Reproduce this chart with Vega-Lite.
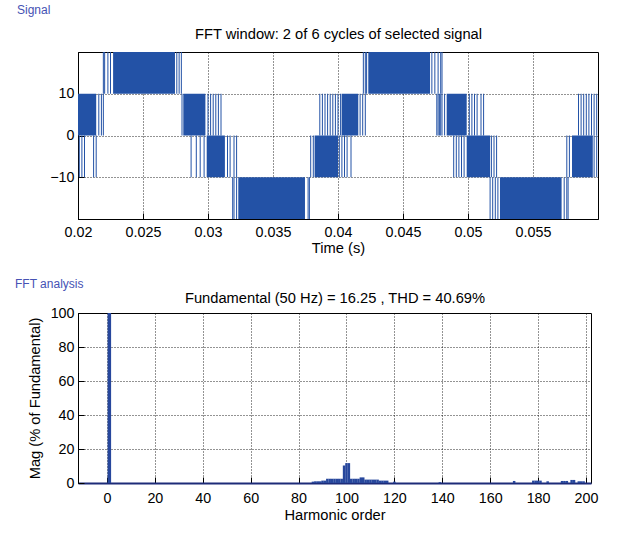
{
  "$schema": "https://vega.github.io/schema/vega-lite/v6.json",
  "background": "white",
  "padding": {"left": 14, "top": 3, "right": 5, "bottom": 5},
  "spacing": 21,
  "config": {
    "font": "Liberation Sans",
    "view": {"stroke": "#000", "strokeWidth": 1},
    "axis": {
      "labelFont": "Liberation Sans", "labelFontSize": 14.3, "labelColor": "#000",
      "titleFont": "Liberation Sans", "titleFontSize": 14.7, "titleFontWeight": "normal", "titleColor": "#000",
      "domainColor": "#000", "tickColor": "#000", "tickSize": -6, "tickWidth": 1,
      "grid": true, "gridColor": "#000", "gridDash": [1, 2], "gridOpacity": 0.85, "gridWidth": 1,
      "minExtent": 0, "labelFlush": false, "labelOverlap": false
    },
    "axisX": {"labelPadding": 12, "titlePadding": 1},
    "axisY": {"labelPadding": 10, "titlePadding": 8},
    "title": {"anchor": "start", "frame": "group", "font": "Liberation Sans", "fontSize": 12, "fontWeight": "normal", "color": "#4652b4"}
  },
  "datasets": {
    "blocks": [
      {"start": 0.0227, "end": 0.02746, "low": 10, "high": 20},
      {"start": 0.04233, "end": 0.04708, "low": 10, "high": 20},
      {"start": 0.0200, "end": 0.0214, "low": 0, "high": 10},
      {"start": 0.0281, "end": 0.0298, "low": 0, "high": 10},
      {"start": 0.04028, "end": 0.04156, "low": 0, "high": 10},
      {"start": 0.04836, "end": 0.0499, "low": 0, "high": 10},
      {"start": 0.0299, "end": 0.0313, "low": -10, "high": 0},
      {"start": 0.0382, "end": 0.0400, "low": -10, "high": 0},
      {"start": 0.0499, "end": 0.0517, "low": -10, "high": 0},
      {"start": 0.0580, "end": 0.0596, "low": -10, "high": 0},
      {"start": 0.03233, "end": 0.03746, "low": -20, "high": -10},
      {"start": 0.05246, "end": 0.0572, "low": -20, "high": -10}
    ],
    "pulses": [
      {"time": 0.02195, "low": 10, "high": 20}, {"time": 0.02205, "low": 10, "high": 20}, {"time": 0.0223, "low": 10, "high": 20}, {"time": 0.0225, "low": 10, "high": 20},
      {"time": 0.0276, "low": 10, "high": 20}, {"time": 0.02778, "low": 10, "high": 20}, {"time": 0.02795, "low": 10, "high": 20},
      {"time": 0.04195, "low": 10, "high": 20}, {"time": 0.0421, "low": 10, "high": 20}, {"time": 0.0422, "low": 10, "high": 20},
      {"time": 0.04722, "low": 10, "high": 20}, {"time": 0.04745, "low": 10, "high": 20}, {"time": 0.0477, "low": 10, "high": 20}, {"time": 0.0479, "low": 10, "high": 20}, {"time": 0.048, "low": 10, "high": 20},
      {"time": 0.0216, "low": 0, "high": 10}, {"time": 0.0218, "low": 0, "high": 10}, {"time": 0.02195, "low": 0, "high": 10},
      {"time": 0.028, "low": 0, "high": 10}, {"time": 0.03, "low": 0, "high": 10}, {"time": 0.0302, "low": 0, "high": 10}, {"time": 0.0304, "low": 0, "high": 10}, {"time": 0.0306, "low": 0, "high": 10}, {"time": 0.0308, "low": 0, "high": 10}, {"time": 0.031, "low": 0, "high": 10},
      {"time": 0.0386, "low": 0, "high": 10}, {"time": 0.0388, "low": 0, "high": 10}, {"time": 0.039, "low": 0, "high": 10}, {"time": 0.0392, "low": 0, "high": 10}, {"time": 0.0394, "low": 0, "high": 10}, {"time": 0.0396, "low": 0, "high": 10}, {"time": 0.0398, "low": 0, "high": 10}, {"time": 0.04, "low": 0, "high": 10}, {"time": 0.0402, "low": 0, "high": 10},
      {"time": 0.0417, "low": 0, "high": 10}, {"time": 0.0419, "low": 0, "high": 10}, {"time": 0.0421, "low": 0, "high": 10},
      {"time": 0.0476, "low": 0, "high": 10}, {"time": 0.0477, "low": 0, "high": 10}, {"time": 0.0478, "low": 0, "high": 10}, {"time": 0.0479, "low": 0, "high": 10}, {"time": 0.048, "low": 0, "high": 10}, {"time": 0.0482, "low": 0, "high": 10},
      {"time": 0.0501, "low": 0, "high": 10}, {"time": 0.0503, "low": 0, "high": 10}, {"time": 0.0505, "low": 0, "high": 10}, {"time": 0.0507, "low": 0, "high": 10}, {"time": 0.051, "low": 0, "high": 10}, {"time": 0.0512, "low": 0, "high": 10},
      {"time": 0.0585, "low": 0, "high": 10}, {"time": 0.0587, "low": 0, "high": 10}, {"time": 0.0589, "low": 0, "high": 10}, {"time": 0.0591, "low": 0, "high": 10}, {"time": 0.0593, "low": 0, "high": 10}, {"time": 0.0595, "low": 0, "high": 10}, {"time": 0.0597, "low": 0, "high": 10}, {"time": 0.0599, "low": 0, "high": 10},
      {"time": 0.0201, "low": -10, "high": 0}, {"time": 0.0203, "low": -10, "high": 0}, {"time": 0.0205, "low": -10, "high": 0}, {"time": 0.0212, "low": -10, "high": 0}, {"time": 0.0214, "low": -10, "high": 0},
      {"time": 0.0287, "low": -10, "high": 0}, {"time": 0.0291, "low": -10, "high": 0}, {"time": 0.0294, "low": -10, "high": 0}, {"time": 0.0297, "low": -10, "high": 0},
      {"time": 0.0315, "low": -10, "high": 0}, {"time": 0.0317, "low": -10, "high": 0}, {"time": 0.032, "low": -10, "high": 0}, {"time": 0.0322, "low": -10, "high": 0},
      {"time": 0.0379, "low": -10, "high": 0}, {"time": 0.0381, "low": -10, "high": 0},
      {"time": 0.0401, "low": -10, "high": 0}, {"time": 0.0403, "low": -10, "high": 0}, {"time": 0.0405, "low": -10, "high": 0}, {"time": 0.0407, "low": -10, "high": 0}, {"time": 0.041, "low": -10, "high": 0},
      {"time": 0.0489, "low": -10, "high": 0}, {"time": 0.0491, "low": -10, "high": 0}, {"time": 0.0493, "low": -10, "high": 0}, {"time": 0.0495, "low": -10, "high": 0}, {"time": 0.0497, "low": -10, "high": 0},
      {"time": 0.0518, "low": -10, "high": 0}, {"time": 0.052, "low": -10, "high": 0}, {"time": 0.0522, "low": -10, "high": 0},
      {"time": 0.0576, "low": -10, "high": 0}, {"time": 0.0578, "low": -10, "high": 0}, {"time": 0.0597, "low": -10, "high": 0}, {"time": 0.0599, "low": -10, "high": 0},
      {"time": 0.0319, "low": -20, "high": -10}, {"time": 0.032, "low": -20, "high": -10}, {"time": 0.0322, "low": -20, "high": -10},
      {"time": 0.0377, "low": -20, "high": -10}, {"time": 0.0378, "low": -20, "high": -10},
      {"time": 0.0517, "low": -20, "high": -10}, {"time": 0.0519, "low": -20, "high": -10}, {"time": 0.0521, "low": -20, "high": -10}, {"time": 0.0523, "low": -20, "high": -10},
      {"time": 0.0574, "low": -20, "high": -10}, {"time": 0.0576, "low": -20, "high": -10}, {"time": 0.0577, "low": -20, "high": -10}
    ],
    "spectrum": [
      {"harmonic": 1, "mag": 100},
      {"harmonic": 86, "mag": 0.8}, {"harmonic": 87, "mag": 1.0}, {"harmonic": 88, "mag": 1.0}, {"harmonic": 89, "mag": 1.0},
      {"harmonic": 90, "mag": 1.4}, {"harmonic": 91, "mag": 1.4}, {"harmonic": 92, "mag": 2.5}, {"harmonic": 93, "mag": 2.5},
      {"harmonic": 94, "mag": 2.5}, {"harmonic": 95, "mag": 2.5}, {"harmonic": 96, "mag": 2.5}, {"harmonic": 97, "mag": 2.5},
      {"harmonic": 98, "mag": 2.5}, {"harmonic": 99, "mag": 10.3}, {"harmonic": 100, "mag": 11.7}, {"harmonic": 101, "mag": 11.7},
      {"harmonic": 102, "mag": 2.5}, {"harmonic": 103, "mag": 2.5}, {"harmonic": 104, "mag": 2.5}, {"harmonic": 105, "mag": 2.5},
      {"harmonic": 106, "mag": 3.3}, {"harmonic": 107, "mag": 3.3}, {"harmonic": 108, "mag": 2.0}, {"harmonic": 109, "mag": 2.0},
      {"harmonic": 110, "mag": 2.0}, {"harmonic": 111, "mag": 2.0}, {"harmonic": 112, "mag": 2.0}, {"harmonic": 113, "mag": 2.0},
      {"harmonic": 114, "mag": 1.4}, {"harmonic": 115, "mag": 1.4}, {"harmonic": 116, "mag": 1.4}, {"harmonic": 117, "mag": 1.4},
      {"harmonic": 120, "mag": 0.8}, {"harmonic": 139, "mag": 0.5}, {"harmonic": 170, "mag": 1.2},
      {"harmonic": 178, "mag": 1.4}, {"harmonic": 179, "mag": 1.4}, {"harmonic": 180, "mag": 1.4}, {"harmonic": 181, "mag": 1.4},
      {"harmonic": 184, "mag": 1.0}, {"harmonic": 190, "mag": 1.2}, {"harmonic": 191, "mag": 1.2}, {"harmonic": 192, "mag": 1.2},
      {"harmonic": 194, "mag": 1.8}, {"harmonic": 195, "mag": 1.8}, {"harmonic": 197, "mag": 1.0}, {"harmonic": 198, "mag": 1.0}, {"harmonic": 199, "mag": 1.0}
    ]
  },
  "vconcat": [
    {
      "title": {"text": "Signal", "dx": -61, "offset": 9},
      "width": 520,
      "height": 167,
      "layer": [
        {
          "data": {"name": "blocks"},
          "mark": {"type": "rect", "color": "#2352a6"},
          "encoding": {
            "x": {"field": "start", "type": "quantitative",
                  "scale": {"domain": [0.02, 0.06], "nice": false, "zero": false},
                  "axis": {"title": "Time (s)", "values": [0.02, 0.025, 0.03, 0.035, 0.04, 0.045, 0.05, 0.055], "format": ".3~f"}},
            "x2": {"field": "end"},
            "y": {"field": "low", "type": "quantitative",
                  "scale": {"domain": [-20, 20], "nice": false, "zero": false},
                  "axis": {"title": null, "values": [-10, 0, 10]}},
            "y2": {"field": "high"}
          }
        },
        {
          "data": {"name": "pulses"},
          "mark": {"type": "rule", "color": "#2352a6", "strokeWidth": 1},
          "encoding": {
            "x": {"field": "time", "type": "quantitative",
                  "scale": {"domain": [0.02, 0.06], "nice": false, "zero": false},
                  "axis": {"orient": "top", "title": "FFT window: 2 of 6 cycles of selected signal", "labels": false, "ticks": false, "domain": false, "grid": false, "titlePadding": 11}},
            "y": {"field": "low", "type": "quantitative",
                  "scale": {"domain": [-20, 20], "nice": false, "zero": false},
                  "axis": {"title": null, "values": [-10, 0, 10]}},
            "y2": {"field": "high"}
          }
        }
      ],
      "resolve": {"axis": {"x": "independent"}}
    },
    {
      "title": {"text": "FFT analysis", "dx": -63, "offset": -1},
      "width": 513,
      "height": 170,
      "data": {"name": "spectrum"},
      "layer": [
        {
          "transform": [{"filter": "datum.harmonic != 1"}],
          "mark": {"type": "bar", "size": 2.5, "color": "#27479c"},
          "encoding": {
            "x": {"field": "harmonic", "type": "quantitative",
                  "scale": {"domain": [-10, 200], "nice": false, "zero": false},
                  "axis": {"title": "Harmonic order", "values": [0, 20, 40, 60, 80, 100, 120, 140, 160, 180, 200], "domainColor": "#1d2b78", "domainWidth": 2, "labelPadding": 14, "titlePadding": 2}},
            "y": {"field": "mag", "type": "quantitative",
                  "scale": {"domain": [0, 100], "nice": false},
                  "axis": {"title": "Mag (% of Fundamental)", "values": [0, 20, 40, 60, 80, 100]}}
          }
        },
        {
          "transform": [{"filter": "datum.harmonic == 1"}],
          "mark": {"type": "bar", "size": 3.5, "color": "#27479c"},
          "encoding": {
            "x": {"field": "harmonic", "type": "quantitative",
                  "scale": {"domain": [-10, 200], "nice": false, "zero": false},
                  "axis": {"orient": "top", "title": "Fundamental (50 Hz) = 16.25 , THD = 40.69%", "labels": false, "ticks": false, "domain": false, "grid": false, "titlePadding": 8}},
            "y": {"field": "mag", "type": "quantitative",
                  "scale": {"domain": [0, 100], "nice": false},
                  "axis": {"title": "Mag (% of Fundamental)", "values": [0, 20, 40, 60, 80, 100]}}
          }
        }
      ],
      "resolve": {"axis": {"x": "independent"}}
    }
  ]
}
